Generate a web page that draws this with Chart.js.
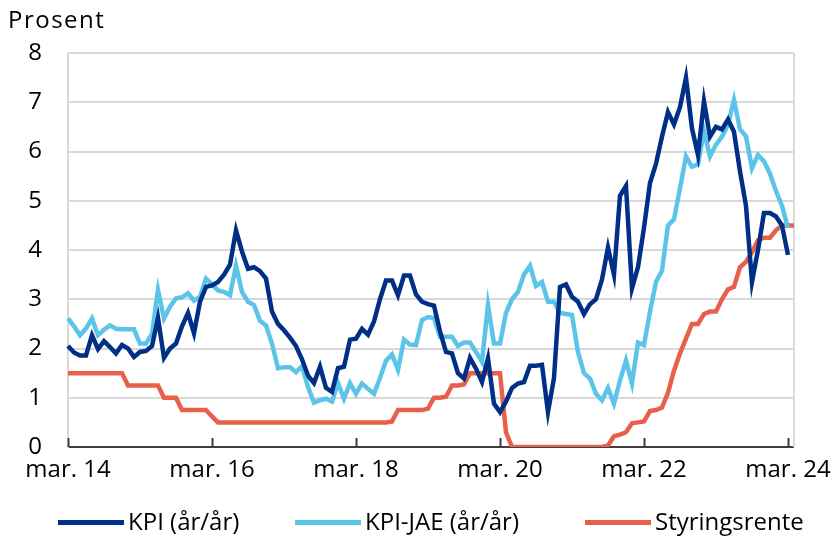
<!DOCTYPE html>
<html lang="no">
<head>
<meta charset="utf-8">
<title>KPI og styringsrente</title>
<script src="https://cdn.jsdelivr.net/npm/chart.js@4.4.1/dist/chart.umd.min.js"></script>
<style>
  html, body { margin: 0; padding: 0; background: #fff; }
  #wrap { position: relative; width: 840px; height: 536px; font-family: "Open Sans", sans-serif; color: #000; }
  .item { position: absolute; top: 505px; height: 32px; line-height: 32px; font-size: 24px; white-space: nowrap; }
  .item .line { display: inline-block; width: 66px; height: 5px; vertical-align: middle; margin-right: 4px; position: relative; top: -1px; }
</style>
</head>
<body>
<div id="wrap">
  <canvas id="chart" width="840" height="536"></canvas>
  <div class="item" style="left:58px"><span class="line" style="background:#002f87"></span>KPI (år/år)</div>
  <div class="item" style="left:295px"><span class="line" style="background:#5bc4e8"></span>KPI-JAE (år/år)</div>
  <div class="item" style="left:585px"><span class="line" style="background:#e8604c"></span>Styringsrente</div>
</div>
<script>
// måneder mar. 2014 - apr. 2024
const monthNames = ["jan.", "feb.", "mar.", "apr.", "mai", "jun.", "jul.", "aug.", "sep.", "okt.", "nov.", "des."];
const labels = [];
for (let k = 0; k < 122; k++) {
  const m = (2 + k) % 12;
  const y = 14 + Math.floor((2 + k) / 12);
  labels.push(monthNames[m] + " " + y);
}

// KPI (år/år), mar. 14 - mar. 24
const kpi = [
  2.05, 1.92, 1.86, 1.86, 2.27, 1.99, 2.15, 2.03, 1.9, 2.07,
  2.0, 1.83, 1.93, 1.95, 2.05, 2.62, 1.81, 2.0, 2.1, 2.45,
  2.72, 2.31, 2.95, 3.25, 3.28, 3.35, 3.5, 3.7, 4.4, 3.97,
  3.62, 3.65, 3.57, 3.42, 2.75, 2.5, 2.37, 2.22, 2.05, 1.78,
  1.45, 1.3, 1.63, 1.2, 1.12, 1.6, 1.63, 2.18, 2.2, 2.4,
  2.28, 2.55, 3.0, 3.38, 3.38, 3.08, 3.48, 3.48, 3.1, 2.95,
  2.9, 2.87, 2.35, 1.93, 1.9, 1.5, 1.39, 1.81, 1.59, 1.32,
  1.8, 0.88, 0.71, 0.92, 1.2, 1.29, 1.32, 1.65, 1.65, 1.67,
  0.71, 1.4, 3.25, 3.3, 3.05, 2.95, 2.7, 2.9, 3.0, 3.4,
  4.05, 3.5, 5.1, 5.3, 3.22, 3.65, 4.45, 5.36, 5.75, 6.3,
  6.8, 6.55, 6.9, 7.5, 6.47, 5.93, 7.02, 6.3, 6.5, 6.45,
  6.65, 6.4, 5.6, 4.9, 3.35, 4.0, 4.75, 4.75, 4.68, 4.5, 3.9
];

// KPI-JAE (år/år)
const kpiJae = [
  2.61, 2.45, 2.27, 2.41, 2.61, 2.27, 2.38, 2.47, 2.4, 2.39,
  2.39, 2.39, 2.1, 2.1, 2.3, 3.19, 2.61, 2.85, 3.02, 3.04,
  3.12, 2.97, 3.05, 3.42, 3.3, 3.18, 3.15, 3.08, 3.68, 3.15,
  2.95, 2.88, 2.56, 2.47, 2.1, 1.6, 1.62, 1.62, 1.52, 1.64,
  1.22, 0.9, 0.95, 0.98, 0.92, 1.3, 0.98, 1.3, 1.08, 1.29,
  1.18, 1.08, 1.4, 1.75, 1.88, 1.57, 2.18, 2.08, 2.07, 2.58,
  2.64, 2.62, 2.24, 2.24, 2.24, 2.05, 2.12, 2.12, 1.93, 1.73,
  2.88, 2.1, 2.1, 2.72, 3.0, 3.15, 3.5, 3.68, 3.27, 3.35,
  2.95, 2.95, 2.72, 2.7, 2.68, 1.93, 1.5, 1.39, 1.08, 0.95,
  1.2, 0.88, 1.35, 1.76, 1.29, 2.12, 2.07, 2.75, 3.35, 3.58,
  4.5, 4.62, 5.25, 5.9, 5.69, 5.74, 6.41, 5.9, 6.14, 6.3,
  6.55, 7.05, 6.45, 6.31, 5.66, 5.93, 5.8, 5.55, 5.2, 4.9, 4.45
];

// Styringsrente, mar. 14 - apr. 24
const rente = [
  1.5, 1.5, 1.5, 1.5, 1.5, 1.5, 1.5, 1.5, 1.5, 1.5,
  1.25, 1.25, 1.25, 1.25, 1.25, 1.25, 1.0, 1.0, 1.0, 0.75,
  0.75, 0.75, 0.75, 0.75, 0.62, 0.5, 0.5, 0.5, 0.5, 0.5,
  0.5, 0.5, 0.5, 0.5, 0.5, 0.5, 0.5, 0.5, 0.5, 0.5,
  0.5, 0.5, 0.5, 0.5, 0.5, 0.5, 0.5, 0.5, 0.5, 0.5,
  0.5, 0.5, 0.5, 0.5, 0.52, 0.75, 0.75, 0.75, 0.75, 0.75,
  0.78, 1.0, 1.0, 1.02, 1.25, 1.25, 1.27, 1.5, 1.5, 1.5,
  1.5, 1.5, 1.5, 0.3, 0, 0, 0, 0, 0, 0,
  0, 0, 0, 0, 0, 0, 0, 0, 0, 0,
  0.03, 0.22, 0.25, 0.3, 0.48, 0.5, 0.52, 0.73, 0.75, 0.8,
  1.1, 1.55, 1.9, 2.2, 2.5, 2.5, 2.7, 2.75, 2.75, 3.0,
  3.2, 3.25, 3.65, 3.76, 3.95, 4.2, 4.25, 4.25, 4.4, 4.5, 4.5, 4.5
];

const yTicks = [0, 1, 2, 3, 4, 5, 6, 7, 8];
const tickEvery = 24;

const FONT = '"Open Sans", sans-serif';

// ramme, tick-streker og "Prosent"
const framePlugin = {
  id: "frame",
  beforeDatasetsDraw(chart) {
    const { ctx, chartArea: a, scales } = chart;
    ctx.save();
    ctx.strokeStyle = "#d9d9d9";
    ctx.lineWidth = 2;
    ctx.beginPath();
    ctx.moveTo(a.right, a.top);
    ctx.lineTo(a.right, a.bottom);
    ctx.stroke();
    ctx.strokeStyle = "#404040";
    ctx.lineWidth = 2;
    for (let i = 0; i < labels.length; i += tickEvery) {
      const x = Math.round(scales.x.getPixelForValue(i)) + 0.5;
      ctx.beginPath();
      ctx.moveTo(x, a.bottom);
      ctx.lineTo(x, a.bottom - 9);
      ctx.stroke();
    }
    ctx.restore();
  },
  afterDraw(chart) {
    const ctx = chart.ctx;
    ctx.save();
    ctx.fillStyle = "#000";
    ctx.font = "24px " + FONT;
    ctx.letterSpacing = "1.5px";
    ctx.textBaseline = "alphabetic";
    ctx.fillText("Prosent", 8, 28);
    ctx.restore();
  }
};

new Chart(document.getElementById("chart"), {
  type: "line",
  data: {
    labels: labels,
    datasets: [
      { label: "KPI (år/år)", data: kpi, borderColor: "#002f87", borderWidth: 4.5, pointRadius: 0, tension: 0 },
      { label: "KPI-JAE (år/år)", data: kpiJae, borderColor: "#5bc4e8", borderWidth: 4.5, pointRadius: 0, tension: 0 },
      { label: "Styringsrente", data: rente, borderColor: "#e8604c", borderWidth: 4.5, pointRadius: 0, tension: 0 }
    ]
  },
  options: {
    responsive: false,
    animation: false,
    events: [],
    layout: { padding: { top: 53, right: 43, bottom: 47, left: 0 } },
    plugins: {
      legend: { display: false },
      tooltip: { enabled: false },
      title: { display: false }
    },
    scales: {
      x: {
        type: "category",
        offset: false,
        afterFit(scale) { scale.height = 42; },
        grid: { display: true, drawOnChartArea: false, drawTicks: false },
        border: { display: true, color: "#404040", width: 2 },
        ticks: {
          autoSkip: false,
          maxRotation: 0,
          padding: 9,
          color: "#000",
          font: { family: FONT, size: 24 },
          callback: (v, i) => (i % tickEvery === 0 ? labels[i] : null)
        }
      },
      y: {
        min: 0,
        max: 8,
        afterFit(scale) { scale.width = 68; },
        afterBuildTicks(scale) { scale.ticks = yTicks.map(v => ({ value: v })); },
        grid: {
          drawTicks: false,
          lineWidth: 2,
          color: c => (c.tick && c.tick.value === 0 ? "rgba(0,0,0,0)" : "#d9d9d9")
        },
        border: { display: true, color: "#d9d9d9", width: 2 },
        ticks: {
          padding: 26,
          color: "#000",
          font: { family: FONT, size: 24 }
        }
      }
    }
  },
  plugins: [framePlugin]
});
</script>
</body>
</html>
